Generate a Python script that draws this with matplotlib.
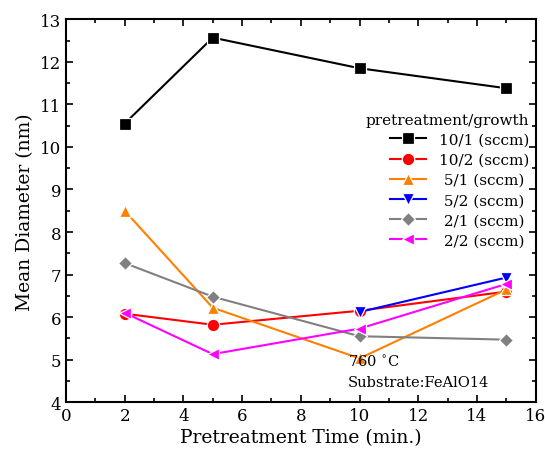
import numpy as np
import matplotlib.pyplot as plt
from matplotlib.ticker import MultipleLocator

plt.rcParams['font.family'] = ['DejaVu Serif']

time = [2, 5, 10, 15]
d_10_1 = [10.55, 12.57, 11.85, 11.38]
d_10_2 = [6.08, 5.82, 6.15, 6.60]
d_5_1 = [8.50, 6.22, 5.03, 6.65]
time_5_2 = [10, 15]
d_5_2 = [6.12, 6.93]
d_2_1 = [7.27, 6.48, 5.55, 5.47]
d_2_2 = [6.10, 5.13, 5.73, 6.78]

series = [
    (time, d_10_1, "10/1 (sccm)", "black", "s"),
    (time, d_10_2, "10/2 (sccm)", "red", "o"),
    (time, d_5_1, " 5/1 (sccm)", "#ff8000", "^"),
    (time_5_2, d_5_2, " 5/2 (sccm)", "blue", "v"),
    (time, d_2_1, " 2/1 (sccm)", "gray", "D"),
    (time, d_2_2, " 2/2 (sccm)", "magenta", "<"),
]

fig = plt.figure(figsize=(5.45, 4.52), dpi=100)
ax = fig.add_axes([0.121, 0.108, 0.862, 0.847])

for x, y, label, color, m in series:
    ms = 7.5 if m == "D" else 9
    ax.plot(x, y, color=color, marker=m, markersize=ms, lw=1.5,
            markeredgecolor="white", markeredgewidth=0.9, label=label)

ax.set_xlim(0, 16)
ax.set_ylim(4, 13)
ax.xaxis.set_major_locator(MultipleLocator(2))
ax.xaxis.set_minor_locator(MultipleLocator(1))
ax.yaxis.set_major_locator(MultipleLocator(1))
ax.yaxis.set_minor_locator(MultipleLocator(0.5))
ax.tick_params(which="both", direction="in", top=True, right=True, labelsize=12)
ax.tick_params(which="major", length=5, width=1.2)
ax.tick_params(which="minor", length=3, width=1.2)
for s in ax.spines.values():
    s.set_linewidth(1.5)

ax.set_xlabel("Pretreatment Time (min.)", fontsize=13.5, labelpad=3)
ax.set_ylabel("Mean Diameter (nm)", fontsize=13.5, labelpad=4)

leg = ax.legend(title="pretreatment/growth", loc="upper right",
                bbox_to_anchor=(1.005, 0.78), frameon=False, fontsize=11,
                title_fontsize=11, handlelength=2.4, labelspacing=0.4,
                borderaxespad=0.2, markerfirst=True)
leg._legend_box.align = "right"

ax.text(9.6, 4.95, "760 $^{\\circ}$C", fontsize=10.5, va="center")
ax.text(9.6, 4.47, "Substrate:FeAlO14", fontsize=10.5, va="center")

fig.savefig("out.png", dpi=100)
